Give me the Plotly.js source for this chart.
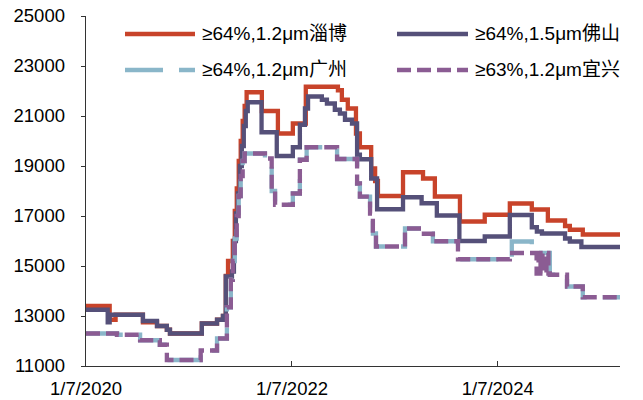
<!DOCTYPE html>
<html>
<head>
<meta charset="utf-8">
<script src="https://cdn.plot.ly/plotly-3.0.1.min.js"></script>
<style>html,body{margin:0;padding:0;background:#fff;}#chart{width:643px;height:400px;}</style>
</head>
<body>
<div id="chart"></div>
<script>
// Series names
var seriesNames = ["≥64%,1.2μm淄博", "≥64%,1.5μm佛山", "≥64%,1.2μm广州", "≥63%,1.2μm宜兴"];

// 淄博 (change dates and values, step series)
var zbDates = ["2020-01-07","2020-03-31","2020-04-21","2020-07-27","2020-09-15","2020-10-20","2020-10-31","2021-02-21","2021-04-16","2021-05-07","2021-05-17","2021-05-25","2021-06-11","2021-06-18","2021-06-25","2021-07-02","2021-07-09","2021-07-16","2021-07-23","2021-07-30","2021-09-22","2021-11-18","2022-01-10","2022-02-25","2022-06-19","2022-07-03","2022-07-24","2022-08-22","2022-09-05","2022-10-15","2022-10-29","2022-11-08","2023-02-05","2023-04-17","2023-05-29","2023-08-26","2023-11-22","2024-02-19","2024-05-07","2024-07-03","2024-09-02","2024-09-19","2024-11-04","2025-03-16"];
var zbValues = [13400,12850,13050,12750,12600,12450,12300,12700,12850,13000,14600,15200,16000,17200,18100,19200,20000,20800,21400,21950,21200,20300,20700,22170,22030,21650,21300,20300,19750,18900,18400,17800,18750,18500,17780,16780,17050,17500,17260,16820,16600,16450,16260,16260];

// 佛山
var fsDates = ["2020-01-07","2020-03-24","2020-03-31","2020-07-27","2020-09-15","2020-10-20","2020-10-31","2021-02-21","2021-04-16","2021-05-07","2021-05-17","2021-06-08","2021-06-15","2021-06-22","2021-06-29","2021-07-06","2021-07-13","2021-07-20","2021-07-27","2021-08-03","2021-09-21","2021-11-14","2022-01-10","2022-02-04","2022-02-22","2022-03-05","2022-04-23","2022-05-11","2022-06-08","2022-06-26","2022-07-14","2022-08-08","2022-08-26","2022-09-05","2022-10-15","2022-11-05","2023-02-05","2023-04-12","2023-06-05","2023-08-24","2023-11-22","2024-02-19","2024-05-07","2024-05-25","2024-06-12","2024-09-02","2024-09-19","2024-10-30","2025-03-16"];
var fsValues = [13250,12750,13050,12800,12600,12450,12300,12700,12850,13000,14580,14780,16000,17100,17900,19000,19800,20600,21200,21550,20350,19400,19750,20650,21300,21780,21650,21500,21250,21100,20850,20700,19450,19270,18500,17270,17750,17510,17020,16000,16180,17040,16550,16380,16300,16100,15980,15760,15760];

// 广州
var gzDates = ["2020-01-07","2020-04-26","2020-07-17","2020-09-25","2020-10-20","2021-02-17","2021-04-16","2021-05-21","2021-06-04","2021-06-11","2021-06-18","2021-06-25","2021-07-02","2021-07-09","2021-07-16","2021-07-23","2021-10-03","2021-10-27","2021-11-08","2022-01-10","2022-02-04","2022-02-28","2022-06-16","2022-08-26","2022-09-05","2022-10-11","2022-10-21","2022-11-01","2023-02-12","2023-04-12","2023-05-22","2023-08-19","2024-02-26","2024-05-07","2024-07-10","2024-09-09","2024-11-04","2025-03-16"];
var gzValues = [12300,12250,12030,11850,11240,11620,12100,13350,14450,15200,16100,17000,17800,18600,19200,19500,19300,18000,17450,17900,19250,19750,19280,18300,17775,17100,16300,15780,16500,16290,15990,15270,15980,15520,14650,14180,13750,13750];

// 宜兴
var yxDates = ["2020-01-07","2020-04-26","2020-07-17","2020-09-25","2020-10-20","2021-02-17","2021-04-16","2021-05-21","2021-06-04","2021-06-11","2021-06-18","2021-06-25","2021-07-02","2021-07-09","2021-07-16","2021-07-23","2021-10-03","2021-10-27","2021-11-08","2022-01-10","2022-02-04","2022-02-28","2022-06-16","2022-08-26","2022-09-05","2022-10-11","2022-10-21","2022-11-01","2023-02-12","2023-04-12","2023-05-22","2023-08-19","2024-02-19","2024-05-24","2024-05-31","2024-06-07","2024-06-14","2024-06-21","2024-06-28","2024-07-05","2024-07-10","2024-09-09","2024-11-04","2025-03-16"];
var yxValues = [12300,12250,12030,11850,11240,11620,12100,13350,14450,15200,16100,17000,17800,18600,19200,19500,19300,18000,17450,17900,19250,19750,19280,18300,17775,17100,16300,15780,16500,16290,15990,15270,15520,14700,15520,14700,15520,14700,15520,14700,14650,14180,13750,13750];

// Axis ticks
var xTickVals = ["2020-01-07","2022-01-07","2024-01-07"];
var xTickText = ["1/7/2020","1/7/2022","1/7/2024"];
var yTickVals = [11000,13000,15000,17000,19000,21000,23000,25000];
var yTickText = ["11000","13000","15000","17000","19000","21000","23000","25000"];

var colors = ["#C8432A", "#555079", "#8AB6C9", "#8B5C93"];
var dashes = ["solid", "solid", "38px,16px", "14px,6px"];
var allDates = [zbDates, fsDates, gzDates, yxDates];
var allValues = [zbValues, fsValues, gzValues, yxValues];

var traces = [];
for (var i = 0; i < 4; i++) {
  traces.push({
    x: allDates[i], y: allValues[i], type: "scatter", mode: "lines",
    name: seriesNames[i],
    line: {shape: "hv", color: colors[i], width: 4.3, dash: dashes[i]},
    showlegend: false, hoverinfo: "x+y"
  });
}

var FONT = "Liberation Sans, Arial, Noto Sans CJK SC, sans-serif";
var L = 86, R = 23, T = 16, B = 34, W = 643, H = 400;
var pw = W - L - R, ph = H - T - B;
function px2x(p) { return (p - L) / pw; }
function px2y(p) { return (H - B - p) / ph; }

// Manual legend (2 columns)
var legPos = [
  {x0: 125, x1: 195, tx: 200, y: 34},
  {x0: 397, x1: 468, tx: 473, y: 34},
  {x0: 125, x1: 195, tx: 200, y: 70},
  {x0: 397, x1: 468, tx: 473, y: 70}
];
var shapes = [], annotations = [];
for (var j = 0; j < 4; j++) {
  var p = legPos[j];
  shapes.push({type: "line", xref: "paper", yref: "paper",
    x0: px2x(p.x0), x1: px2x(p.x1), y0: px2y(p.y), y1: px2y(p.y),
    line: {color: colors[j], width: 4.3, dash: dashes[j]}});
  annotations.push({xref: "paper", yref: "paper", x: px2x(p.tx), y: px2y(p.y),
    xanchor: "left", yanchor: "middle", showarrow: false, text: seriesNames[j],
    font: {family: FONT, size: 19, color: "#000"}});
}

var layout = {
  width: W, height: H,
  margin: {l: L, r: R, t: T, b: B, pad: 0},
  paper_bgcolor: "#fff", plot_bgcolor: "#fff",
  font: {family: FONT, size: 19, color: "#000"},
  xaxis: {
    type: "date", range: ["2020-01-07", "2025-03-16"],
    tickmode: "array", tickvals: xTickVals, ticktext: xTickText,
    ticks: "inside", ticklen: 5, tickcolor: "#333", tickwidth: 1,
    showline: true, linecolor: "#333", linewidth: 1.3,
    showgrid: false, zeroline: false,
    ticklabelstandoff: 5,
    tickfont: {family: FONT, size: 18.5, color: "#000"}
  },
  yaxis: {
    range: [11000, 25000], tickmode: "array", tickvals: yTickVals, ticktext: yTickText,
    ticks: "outside", ticklen: 4, tickcolor: "#333", tickwidth: 1,
    showline: true, linecolor: "#333", linewidth: 1.3,
    showgrid: false, zeroline: false,
    ticklabelstandoff: 12,
    tickfont: {family: FONT, size: 18.5, color: "#000"}
  },
  shapes: shapes,
  annotations: annotations
};

Plotly.newPlot("chart", traces, layout, {staticPlot: true, displayModeBar: false});
</script>
</body>
</html>
